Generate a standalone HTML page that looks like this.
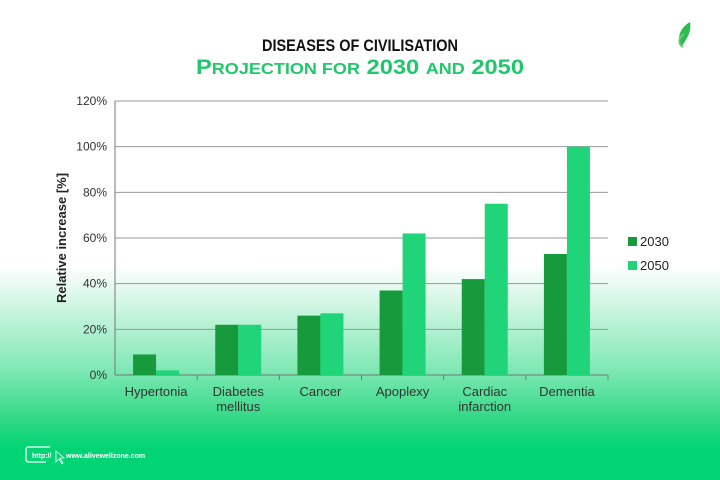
<!DOCTYPE html>
<html><head><meta charset="utf-8"><style>
body{margin:0;width:720px;height:480px;overflow:hidden;font-family:"Liberation Sans",sans-serif;
background:linear-gradient(180deg,#fff 0,#fff 265px,#d6f7e6 300px,#7fe8b4 370px,#2fd884 420px,#00d474 450px,#00d474 480px);}
svg{position:absolute;left:0;top:0}
</style></head><body>
<svg width="720" height="480">
<text x="360" y="51" text-anchor="middle" font-family="Liberation Sans Narrow,Liberation Sans,sans-serif" font-size="17" font-weight="bold" fill="#111" textLength="196" lengthAdjust="spacingAndGlyphs">DISEASES OF CIVILISATION</text>
<text x="360" y="74" text-anchor="middle" font-family="Liberation Sans,sans-serif" font-size="21" font-weight="bold" fill="#1fc86a" textLength="328" lengthAdjust="spacingAndGlyphs">P<tspan font-size="16">ROJECTION FOR</tspan> 2030 <tspan font-size="16">AND</tspan> 2050</text>
<g><path d="M690 22 C680 28 676 38 682 46 C686 40 692 32 690 22Z" fill="#2dbb52"/><path d="M684 34 C678 38 678 44 683 47" fill="none" stroke="#6c6" stroke-width="2"/></g>
<g id="grid"></g><g id="bars"></g><g id="labels"></g>
<text transform="translate(66,238) rotate(-90)" text-anchor="middle" font-size="13" font-weight="bold" fill="#222">Relative increase [%]</text>
<rect x="628" y="237" width="9" height="9" fill="#169a3c"/>
<text x="640" y="246" font-size="13" fill="#222">2030</text>
<rect x="628" y="261" width="9" height="9" fill="#1fd479"/>
<text x="640" y="270" font-size="13" fill="#222">2050</text>
<g><path d="M50 447 H28 Q26 447 26 450 V459 Q26 462 29 462 H46" fill="none" stroke="#fff" stroke-width="1.2"/><text x="32" y="458" font-size="7" font-weight="bold" fill="#fff">http://</text><path d="M56 451 L56 462 L59 459 L62 464 L63 463 L60 458 L64 458Z" fill="none" stroke="#fff" stroke-width="0.8"/><text x="66" y="458" font-size="7" font-weight="bold" fill="#fff">www.alivewellzone.com</text></g>
</svg>
<script>
const categories=[["Hypertonia"],["Diabetes","mellitus"],["Cancer"],["Apoplexy"],["Cardiac","infarction"],["Dementia"]];
const values2030=[9,22,26,37,42,53];
const values2050=[2,22,27,62,75,100];
const ticks=[0,20,40,60,80,100,120];
const X0=115,X1=608,Y0=375,Y1=101,YMAX=120;
const y=v=>Y0-(v/YMAX)*(Y0-Y1);
const band=(X1-X0)/categories.length;
const NS="http://www.w3.org/2000/svg";
function mk(t,a,p){const e=document.createElementNS(NS,t);for(const k in a)e.setAttribute(k,a[k]);p.appendChild(e);return e;}
const g=document.getElementById('grid'),b=document.getElementById('bars'),l=document.getElementById('labels');
ticks.forEach(t=>{
 const ln=mk('line',{x1:X0,x2:X1,y1:y(t),y2:y(t),stroke:t===0?'#777':'#999','stroke-width':1},g);
 
 
 const tx=mk('text',{x:X0-8,y:y(t)+4,'text-anchor':'end','font-size':12,fill:'#333'},g);
 tx.textContent=t+'%';
 
 
});
const ax=mk('line',{x1:X0,x2:X0,y1:Y1,y2:Y0,stroke:'#777'},g);


const bw=23;
categories.forEach((c,i)=>{
 const cx=X0+band*(i+0.5);
 const r1=mk('rect',{x:cx-bw,y:y(values2030[i]),width:bw,height:Y0-y(values2030[i]),fill:'#169a3c'},b);
 
 
 const r2=mk('rect',{x:cx,y:y(values2050[i]),width:bw,height:Y0-y(values2050[i]),fill:'#1fd479'},b);
 
 
 const tk=mk('line',{x1:X0+band*(i+1),x2:X0+band*(i+1),y1:Y0,y2:Y0+5,stroke:'#777'},g);
 
 
 c.forEach((s,j)=>{
  const t=mk('text',{x:cx,y:Y0+21+j*15,'text-anchor':'middle','font-size':13,fill:'#333'},l);
  t.textContent=s;
  
  
 });
});
</script>
</body></html>
